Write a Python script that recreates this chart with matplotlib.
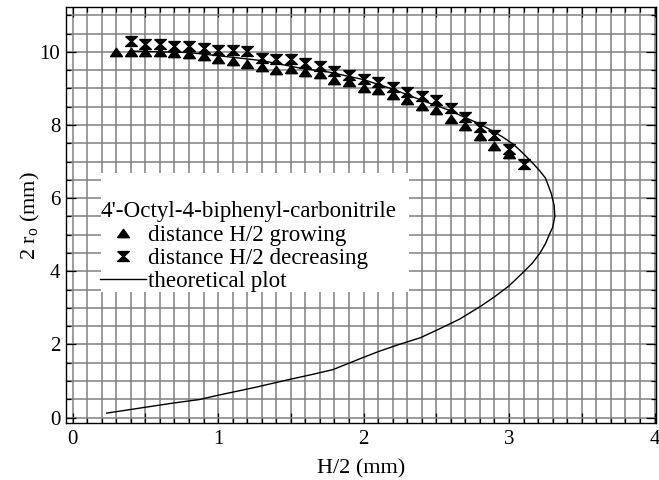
import numpy as np
import matplotlib
matplotlib.use("Agg")
import matplotlib.pyplot as plt
from matplotlib.ticker import MultipleLocator, FuncFormatter
from matplotlib.lines import Line2D
from matplotlib.patches import Rectangle

plt.rcParams['font.family'] = ['Liberation Serif', 'DejaVu Serif']
plt.rcParams['mathtext.fontset'] = 'custom'
plt.rcParams['mathtext.rm'] = 'Liberation Serif'

# measured points, distance H/2 growing
x_grow = [0.3, 0.4, 0.5, 0.6, 0.7, 0.8, 0.9, 1.0, 1.1, 1.2, 1.3, 1.4, 1.5, 1.6,
          1.7, 1.8, 1.9, 2.0, 2.1, 2.2, 2.3, 2.4, 2.5, 2.6, 2.7, 2.8, 2.9, 3.0]
y_grow = [10.00, 10.00, 10.00, 10.00, 9.96, 9.93, 9.89, 9.80, 9.74, 9.68, 9.59,
          9.50, 9.54, 9.45, 9.38, 9.22, 9.18, 9.02, 8.95, 8.81, 8.67, 8.53, 8.40,
          8.17, 7.98, 7.71, 7.43, 7.20]

# measured points, distance H/2 decreasing
x_dec = [0.4, 0.5, 0.6, 0.7, 0.8, 0.9, 1.0, 1.1, 1.2, 1.3, 1.4, 1.5, 1.6, 1.7,
         1.8, 1.9, 2.0, 2.1, 2.2, 2.3, 2.4, 2.5, 2.6, 2.7, 2.8, 2.9, 3.0, 3.1]
y_dec = [10.29, 10.22, 10.22, 10.15, 10.17, 10.11, 10.06, 10.04, 10.02, 9.83,
         9.79, 9.79, 9.70, 9.60, 9.47, 9.37, 9.26, 9.17, 9.05, 8.91, 8.78, 8.69,
         8.46, 8.23, 7.95, 7.72, 7.35, 6.93]

# theoretical curve
x_theo = [0.40, 0.80, 1.10, 1.30, 1.57, 1.77, 2.00, 2.20, 2.43, 2.59, 2.66, 2.78,
          2.89, 2.96, 3.03, 3.09, 3.16, 3.21, 3.25, 3.29, 3.31, 3.315, 3.30, 3.28,
          3.25, 3.21, 3.16, 3.10, 3.00, 2.90, 2.80, 2.66, 2.52, 2.39, 2.23, 2.10,
          1.99, 1.79, 1.65, 1.49, 1.25, 0.99, 0.87, 0.70, 0.50, 0.235]
y_theo = [10.02, 9.98, 9.85, 9.76, 9.55, 9.44, 9.24, 8.98, 8.63, 8.40, 8.27, 8.06,
          7.83, 7.66, 7.47, 7.25, 6.97, 6.75, 6.55, 6.13, 5.80, 5.50, 5.20, 5.03,
          4.75, 4.48, 4.22, 3.98, 3.60, 3.30, 3.03, 2.69, 2.42, 2.18, 1.98, 1.80,
          1.63, 1.31, 1.18, 1.04, 0.82, 0.60, 0.49, 0.40, 0.28, 0.12]

tri = [(-1, -0.7), (1, -0.7), (0, 0.7), (-1, -0.7)]
hourglass = [(-1, 0.85), (1, 0.85), (0.08, 0), (1, -0.85), (-1, -0.85),
             (-0.08, 0), (-1, 0.85)]

fig = plt.figure(figsize=(6.59, 4.80), dpi=100)
ax = fig.add_axes([0.100, 0.118, 0.8954, 0.867])

ax.plot(x_theo, y_theo, color='black', lw=1.0, zorder=3)
ax.plot(x_grow, y_grow, ls='none', marker=tri, ms=8.6, color='black', zorder=4)
ax.plot(x_dec, y_dec, ls='none', marker=hourglass, ms=8.4, color='black', zorder=4)

ax.set_xlim(-0.046, 4.01)
ax.set_ylim(-0.16, 11.22)

ax.xaxis.set_major_locator(MultipleLocator(0.5))
ax.xaxis.set_minor_locator(MultipleLocator(0.1))
ax.xaxis.set_major_formatter(FuncFormatter(
    lambda v, p: '%d' % round(v) if abs(v - round(v)) < 1e-6 else ''))
ax.yaxis.set_major_locator(MultipleLocator(2))
ax.yaxis.set_minor_locator(MultipleLocator(0.5))

ax.grid(which='both', color='#808080', lw=1.1, zorder=0)
ax.set_axisbelow(True)
ax.tick_params(which='both', direction='in', top=True, right=True,
               color='black', width=0.9, labelsize=15)
ax.tick_params(which='major', length=7)
ax.tick_params(which='minor', length=3.6)
ax.tick_params(axis='x', pad=5)
ax.tick_params(axis='y', pad=4)
for s in ax.spines.values():
    s.set_linewidth(1.0)

ax.set_xlabel('H/2 (mm)', fontsize=16, labelpad=7)
ax.set_ylabel('2 r$_{\\rm o}$ (mm)', fontsize=16, labelpad=-2)

# white box behind the legend, covering the grid
ax.add_patch(Rectangle((0.0593, 0.315), 0.5220, 0.286, transform=ax.transAxes,
                       facecolor='white', edgecolor='none', zorder=2))

handles = [
    Line2D([], [], ls='none', marker=tri, ms=8.6, color='black'),
    Line2D([], [], ls='none', marker=hourglass, ms=8.4, color='black'),
    Line2D([], [], color='black', lw=1.0),
]
labels = ['distance H/2 growing', 'distance H/2 decreasing', 'theoretical plot']
leg = ax.legend(handles, labels, title="4'-Octyl-4-biphenyl-carbonitrile",
                loc='upper left', bbox_to_anchor=(0.058, 0.534),
                borderaxespad=0, fontsize=16.6, title_fontsize=16.6,
                frameon=False, handlelength=2.0, handletextpad=0.08,
                labelspacing=0.1, borderpad=0.0, alignment='left')
leg.set_zorder(10)

fig.savefig('out.png', dpi=100)
